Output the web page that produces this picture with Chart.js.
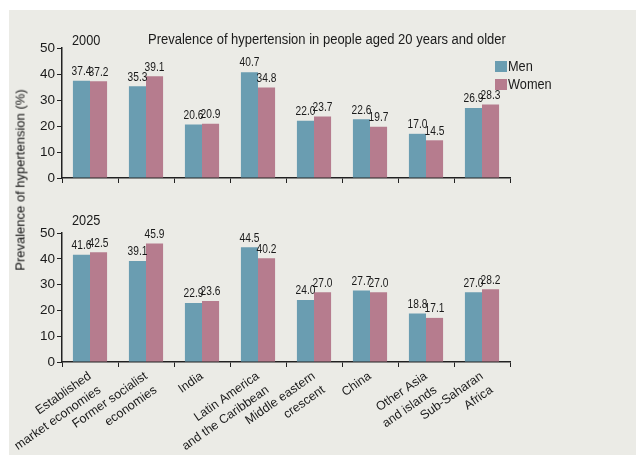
<!DOCTYPE html>
<html><head><meta charset="utf-8">
<script src="https://cdn.jsdelivr.net/npm/chart.js@4.4.0/dist/chart.umd.min.js"></script>
<style>
html,body{margin:0;padding:0;background:#fff;}
#wrap{position:relative;width:636px;height:455px;overflow:hidden;}
#bg{position:absolute;left:9px;top:10px;right:0;bottom:0;background:#ebebe6;}
#c1{position:absolute;left:0;top:0;}
#c2{position:absolute;left:0;top:196px;}
#ytitle{position:absolute;left:20px;top:180px;transform:translate(-50%,-50%) rotate(-90deg);white-space:nowrap;font-family:"Liberation Sans",Arial,sans-serif;font-size:13px;color:#111;}
</style></head><body>
<div id="wrap"><div id="bg"></div>
<canvas id="c1" width="636" height="196"></canvas>
<canvas id="c2" width="636" height="259"></canvas>
<div id="ytitle">Prevalence of hypertension (%)</div>
</div>
<script>
const categories = [["Established","market economies"],["Former socialist","economies"],"India",["Latin America","and the Caribbean"],["Middle eastern","crescent"],"China",["Other Asia","and islands"],["Sub-Saharan","Africa"]];
const men2000 = [37.4,35.3,20.6,40.7,22.0,22.6,17.0,26.9];
const women2000 = [37.2,39.1,20.9,34.8,23.7,19.7,14.5,28.3];
const men2025 = [41.6,39.1,22.9,44.5,24.0,27.7,18.8,27.0];
const women2025 = [42.5,45.9,23.6,40.2,27.0,27.0,17.1,28.2];
const yTicks = [0,10,20,30,40,50];
const seriesNames = ["Men","Women"];
const title = "Prevalence of hypertension in people aged 20 years and older";

const MEN_C = "#6a9db1", WOMEN_C = "#b67c8e";
const FONT = '"Liberation Sans",Arial,sans-serif';
const SQ = 0.85; // horizontal squeeze to mimic the narrow typeface

function narrowText(ctx, text, x, y, size, align){
  ctx.save();
  ctx.font = size + 'px ' + FONT;
  ctx.textAlign = align;
  ctx.translate(x, y);
  ctx.scale(SQ, 1);
  ctx.fillText(text, 0, 0);
  ctx.restore();
}

const valueLabels = {
  id:'valueLabels',
  afterDatasetsDraw(chart){
    const ctx = chart.ctx;
    ctx.save();
    ctx.fillStyle = '#1a1a1a';
    ctx.textBaseline = 'bottom';
    chart.data.datasets.forEach((ds,di)=>{
      chart.getDatasetMeta(di).data.forEach((bar,i)=>{
        narrowText(ctx, ds.data[i].toFixed(1), bar.x, bar.y - 3, 12, 'center');
      });
    });
    ctx.restore();
  }
};

function extras(yearLabel, yearOffset, showTitle, showLegend){
  return {
    id:'extras',
    afterDraw(chart){
      const ctx = chart.ctx, a = chart.chartArea;
      ctx.save();
      ctx.fillStyle = '#1a1a1a';
      ctx.textBaseline = 'middle';
      narrowText(ctx, yearLabel, a.left + 10, a.top - yearOffset, 15, 'left');
      if(showTitle){
        narrowText(ctx, title, 148, a.top - 8, 15.3, 'left');
      }
      if(showLegend){
        const cols=[MEN_C,WOMEN_C];
        seriesNames.forEach((n,i)=>{
          const y = 66 + i*18;
          ctx.fillStyle = cols[i];
          ctx.fillRect(495, y-5, 12, 11);
          ctx.fillStyle = '#1a1a1a';
          narrowText(ctx, n, 508, y+1, 15, 'left');
        });
      }
      ctx.restore();
    }
  };
}

function makeChart(id, men, women, top, xHeight, showXLabels, yearLabel, yearOffset, first){
  return new Chart(document.getElementById(id), {
    type:'bar',
    data:{labels:categories, datasets:[
      {label:seriesNames[0], data:men, backgroundColor:MEN_C, categoryPercentage:0.61, barPercentage:1.0},
      {label:seriesNames[1], data:women, backgroundColor:WOMEN_C, categoryPercentage:0.61, barPercentage:1.0}
    ]},
    options:{
      responsive:false, animation:false, devicePixelRatio:1,
      layout:{padding:{left:32,right:126,top:top,bottom:0}},
      plugins:{legend:{display:false},tooltip:{enabled:false},title:{display:false}},
      scales:{
        x:{
          grid:{display:true,drawOnChartArea:false,offset:true,color:'#222',tickLength:5,lineWidth:1},
          border:{display:true,color:'#222',width:1.5},
          ticks:{display:showXLabels,autoSkip:false,maxRotation:35,minRotation:35,color:'#1a1a1a',font:{family:FONT,size:12.5,lineHeight:1.35},padding:1},
          afterFit(s){ s.height = xHeight; }
        },
        y:{
          min:0,max:50,
          afterBuildTicks(s){ s.ticks = yTicks.map(v=>({value:v})); },
          grid:{display:true,drawOnChartArea:false,color:'#222',tickLength:5},
          border:{display:true,color:'#222',width:1.5},
          ticks:{color:'#1a1a1a',font:{family:FONT,size:13.5},padding:2},
          afterFit(s){ s.width = 30; }
        }
      }
    },
    plugins:[valueLabels, extras(yearLabel, yearOffset, first, first)]
  });
}
makeChart('c1', men2000, women2000, 48, 18, false, '2000', 7, true);
makeChart('c2', men2025, women2025, 37, 93, true, '2025', 12, false);
</script>
</body></html>
